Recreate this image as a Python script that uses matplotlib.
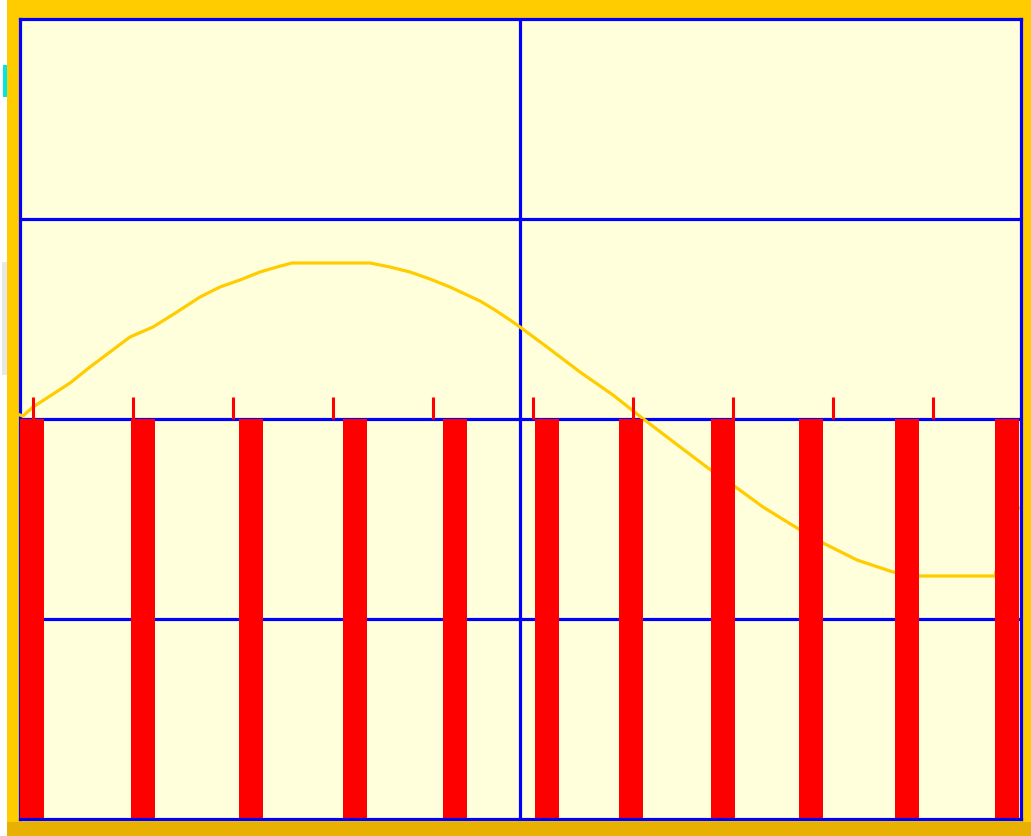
import numpy as np
import matplotlib
matplotlib.use("Agg")
import matplotlib.pyplot as plt
from matplotlib.patches import Rectangle

W, H = 1031, 836

# pulse train: bar centres and width (x units), all bars reach level 2
BAR_X = [11.5, 123, 231, 335, 435, 526.5, 610.5, 703, 791, 887, 987]
BAR_W = 24
BAR_H = 2.0

# sample clock marks above the pulse level
TICK_X = [13, 113, 213, 313, 413, 513, 613, 713, 813, 913]

# envelope trace
CURVE_X = [0, 3, 13, 27, 50, 70, 90, 110, 133, 157, 180, 200, 220, 240, 257,
           272, 350, 370, 390, 410, 430, 445, 460, 475, 490, 500,
           527, 560, 593, 617, 647, 688, 717, 743, 777, 803, 837, 873,
           899, 975, 990, 1000, 1011]
CURVE_Y = [2.02, 2.015, 2.06, 2.105, 2.18, 2.26, 2.335, 2.41, 2.46, 2.535,
           2.61, 2.66, 2.695, 2.735, 2.76, 2.78, 2.78, 2.76, 2.735, 2.70,
           2.66, 2.625, 2.59, 2.545, 2.495, 2.46,
           2.36, 2.235, 2.12, 2.025, 1.91, 1.755, 1.655, 1.56, 1.455, 1.38,
           1.295, 1.235, 1.215, 1.215, 1.555, 1.555, 1.555]

GOLD = "#FFCC00"
GOLD_DARK = "#E8B000"
BG = "#FFFFDC"
BLUE = "#0000FF"
RED = "#FF0000"

fig = plt.figure(figsize=(W / 100, H / 100), dpi=100)
fig.patch.set_facecolor(GOLD)

def frect(x0, y0, x1, y1, color, z=0):
    # rectangle in pixel coords (origin top-left)
    fig.add_artist(Rectangle((x0 / W, 1 - y1 / H), (x1 - x0) / W, (y1 - y0) / H,
                             transform=fig.transFigure, color=color, lw=0, zorder=z))

frect(0, 0, 7, H, "#FFFFFF")
frect(3, 65, 7, 97, "#00E5E5")
frect(2, 262, 7, 375, "#E8E8E8")
frect(7, 822, W, H, GOLD_DARK)

ax = fig.add_axes([20 / W, (H - 819) / H, 1001 / W, 800 / H])
ax.set_facecolor(BG)
ax.set_xlim(0, 1001)
ax.set_ylim(0, 4)
ax.set_xticks([])
ax.set_yticks([])

for name, sp in ax.spines.items():
    sp.set_color(BLUE)
    sp.set_linewidth(2.3)
    sp.set_zorder(1.5 if name == "left" else 4)

for yv in (1, 2, 3):
    ax.axhline(yv, color=BLUE, lw=2.3, zorder=1)
ax.axvline(500, color=BLUE, lw=2.3, zorder=1)

ax.plot(CURVE_X, CURVE_Y, color=GOLD, lw=2.3, zorder=2, clip_on=False)

ax.bar(BAR_X, [BAR_H] * len(BAR_X), width=BAR_W, color=RED, lw=0, zorder=3)
ax.vlines(TICK_X, BAR_H, BAR_H + 0.11, color=RED, lw=2.2, zorder=3)

fig.savefig("out.png", dpi=100, facecolor=fig.get_facecolor())
